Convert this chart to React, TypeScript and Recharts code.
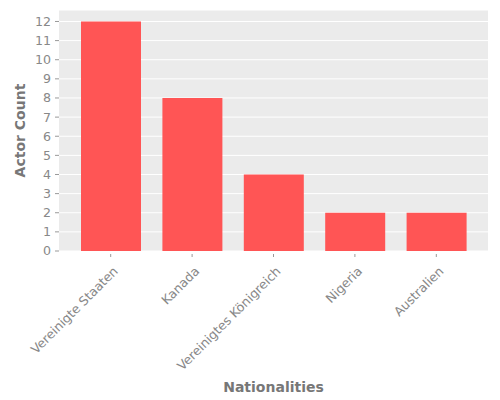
import React from "react";
import { BarChart, Bar, XAxis, YAxis, CartesianGrid } from "recharts";

const categories = ["Vereinigte Staaten", "Kanada", "Vereinigtes Königreich", "Nigeria", "Australien"];
const actorCounts = [12, 8, 4, 2, 2];
const yTicks = [0, 1, 2, 3, 4, 5, 6, 7, 8, 9, 10, 11, 12];

const data = categories.map((name, i) => ({ name, count: actorCounts[i] }));

const FONT = "DejaVu Sans, sans-serif";

const XTick = (props: any) => {
  const { x, y, payload } = props;
  return (
    <g>
      <line x1={x} y1={y + 3} x2={x} y2={y + 6} stroke="#999" strokeWidth={1} />
      <text
        x={0}
        y={0}
        textAnchor="end"
        transform={`translate(${x + 8},${y + 21}) rotate(-45)`}
        fill="#888"
        fontSize={12.6}
        fontFamily={FONT}
      >
        {payload.value}
      </text>
    </g>
  );
};

export default function App() {
  return (
    <div style={{ position: "absolute", left: 0, top: 0, width: 500, height: 400, background: "#fff" }}>
      <BarChart
        width={500}
        height={400}
        data={data}
        margin={{ top: 10, right: 12, bottom: 0, left: 0 }}
      >
        <CartesianGrid stroke="#ffffff" strokeWidth={1} vertical={false} fill="#EBEBEB" fillOpacity={1} />
        <XAxis
          dataKey="name"
          height={149}
          interval={0}
          padding={{ left: 11, right: 11 }}
          axisLine={false}
          tickLine={false}
          tickSize={0}
          tickMargin={0}
          tick={<XTick />}
          label={{
            value: "Nationalities",
            position: "insideBottom",
            offset: 8,
            fill: "#777",
            fontSize: 14,
            fontWeight: "bold",
            fontFamily: FONT,
          }}
        />
        <YAxis
          width={59}
          domain={[0, 12.6]}
          ticks={yTicks}
          interval={0}
          axisLine={false}
          tickLine={{ stroke: "#999" }}
          tickSize={4}
          tickMargin={4}
          tick={{ fill: "#888", fontSize: 12.6, fontFamily: FONT }}
          label={{
            value: "Actor Count",
            angle: -90,
            position: "insideLeft",
            offset: 20,
            style: { textAnchor: "middle" },
            fill: "#777",
            fontSize: 14,
            fontWeight: "bold",
            fontFamily: FONT,
          }}
        />
        <Bar dataKey="count" fill="#FF5555" barSize={60} isAnimationActive={false} />
      </BarChart>
    </div>
  );
}
